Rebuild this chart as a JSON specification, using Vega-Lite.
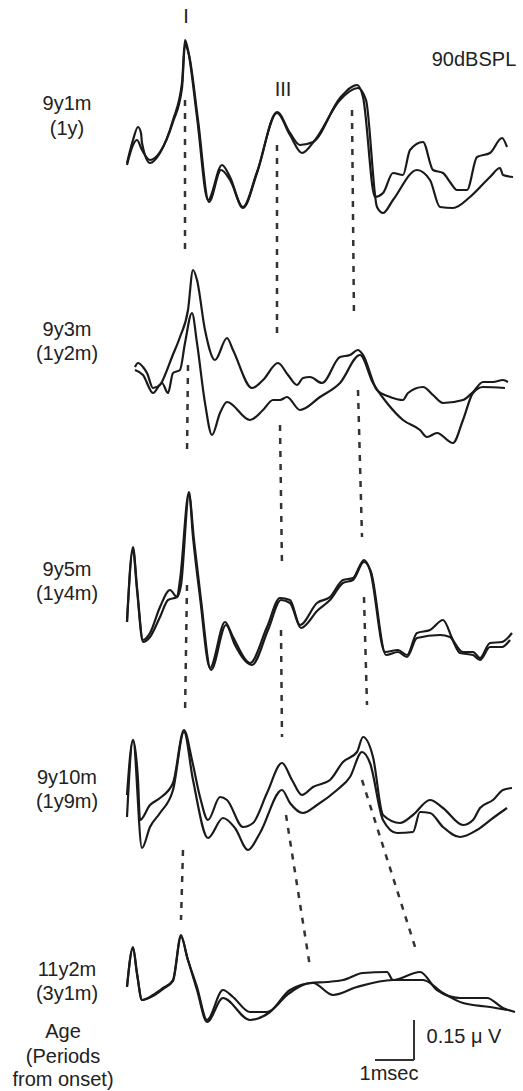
{
  "$schema": "https://vega.github.io/schema/vega-lite/v6.json",
  "width": 523,
  "height": 1091,
  "autosize": {"type": "fit", "contains": "padding"},
  "padding": 0,
  "background": "white",
  "config": {"view": {"stroke": null}},
  "datasets": {
    "traces": [
      {"s":"1a","x":127,"y":163},{"s":"1a","x":133,"y":140},{"s":"1a","x":138,"y":127},{"s":"1a","x":141,"y":133},{"s":"1a","x":142,"y":143},{"s":"1a","x":150,"y":163},{"s":"1a","x":160,"y":153},{"s":"1a","x":173,"y":120},{"s":"1a","x":182,"y":83},{"s":"1a","x":185,"y":40},{"s":"1a","x":188,"y":50},{"s":"1a","x":197,"y":117},{"s":"1a","x":208,"y":200},{"s":"1a","x":222,"y":165},{"s":"1a","x":230,"y":177},{"s":"1a","x":243,"y":208},{"s":"1a","x":257,"y":173},{"s":"1a","x":277,"y":112},{"s":"1a","x":290,"y":133},{"s":"1a","x":300,"y":145},{"s":"1a","x":313,"y":142},{"s":"1a","x":340,"y":98},{"s":"1a","x":357,"y":85},{"s":"1a","x":363,"y":97},{"s":"1a","x":375,"y":197},{"s":"1a","x":383,"y":193},{"s":"1a","x":393,"y":173},{"s":"1a","x":403,"y":175},{"s":"1a","x":410,"y":150},{"s":"1a","x":423,"y":142},{"s":"1a","x":433,"y":170},{"s":"1a","x":443,"y":173},{"s":"1a","x":450,"y":182},{"s":"1a","x":457,"y":190},{"s":"1a","x":467,"y":190},{"s":"1a","x":477,"y":157},{"s":"1a","x":490,"y":153},{"s":"1a","x":502,"y":138},{"s":"1a","x":507,"y":147},
      {"s":"1b","x":127,"y":165},{"s":"1b","x":133,"y":145},{"s":"1b","x":137,"y":140},{"s":"1b","x":142,"y":150},{"s":"1b","x":150,"y":160},{"s":"1b","x":160,"y":152},{"s":"1b","x":173,"y":122},{"s":"1b","x":182,"y":88},{"s":"1b","x":185,"y":45},{"s":"1b","x":189,"y":55},{"s":"1b","x":198,"y":120},{"s":"1b","x":209,"y":202},{"s":"1b","x":221,"y":170},{"s":"1b","x":230,"y":180},{"s":"1b","x":243,"y":207},{"s":"1b","x":257,"y":172},{"s":"1b","x":277,"y":113},{"s":"1b","x":290,"y":135},{"s":"1b","x":302,"y":153},{"s":"1b","x":315,"y":140},{"s":"1b","x":340,"y":100},{"s":"1b","x":358,"y":88},{"s":"1b","x":366,"y":100},{"s":"1b","x":377,"y":207},{"s":"1b","x":383,"y":213},{"s":"1b","x":393,"y":200},{"s":"1b","x":417,"y":170},{"s":"1b","x":430,"y":180},{"s":"1b","x":440,"y":207},{"s":"1b","x":453,"y":208},{"s":"1b","x":470,"y":197},{"s":"1b","x":490,"y":177},{"s":"1b","x":500,"y":168},{"s":"1b","x":503,"y":175},{"s":"1b","x":513,"y":177},
      {"s":"2a","x":135,"y":367},{"s":"2a","x":138,"y":363},{"s":"2a","x":143,"y":367},{"s":"2a","x":147,"y":373},{"s":"2a","x":153,"y":388},{"s":"2a","x":160,"y":385},{"s":"2a","x":165,"y":375},{"s":"2a","x":172,"y":357},{"s":"2a","x":180,"y":337},{"s":"2a","x":188,"y":310},{"s":"2a","x":193,"y":270},{"s":"2a","x":197,"y":280},{"s":"2a","x":205,"y":330},{"s":"2a","x":215,"y":360},{"s":"2a","x":227,"y":338},{"s":"2a","x":233,"y":350},{"s":"2a","x":252,"y":388},{"s":"2a","x":263,"y":380},{"s":"2a","x":278,"y":363},{"s":"2a","x":288,"y":375},{"s":"2a","x":297,"y":385},{"s":"2a","x":303,"y":378},{"s":"2a","x":310,"y":377},{"s":"2a","x":322,"y":383},{"s":"2a","x":340,"y":357},{"s":"2a","x":350,"y":355},{"s":"2a","x":358,"y":350},{"s":"2a","x":363,"y":355},{"s":"2a","x":377,"y":390},{"s":"2a","x":390,"y":397},{"s":"2a","x":403,"y":400},{"s":"2a","x":408,"y":393},{"s":"2a","x":423,"y":387},{"s":"2a","x":433,"y":395},{"s":"2a","x":443,"y":403},{"s":"2a","x":463,"y":400},{"s":"2a","x":473,"y":392},{"s":"2a","x":483,"y":382},{"s":"2a","x":493,"y":382},{"s":"2a","x":503,"y":380},{"s":"2a","x":508,"y":382},
      {"s":"2b","x":135,"y":370},{"s":"2b","x":143,"y":375},{"s":"2b","x":153,"y":393},{"s":"2b","x":162,"y":383},{"s":"2b","x":168,"y":393},{"s":"2b","x":173,"y":373},{"s":"2b","x":180,"y":370},{"s":"2b","x":185,"y":343},{"s":"2b","x":192,"y":313},{"s":"2b","x":197,"y":343},{"s":"2b","x":205,"y":403},{"s":"2b","x":212,"y":435},{"s":"2b","x":220,"y":413},{"s":"2b","x":227,"y":402},{"s":"2b","x":250,"y":420},{"s":"2b","x":263,"y":410},{"s":"2b","x":273,"y":400},{"s":"2b","x":280,"y":400},{"s":"2b","x":287,"y":397},{"s":"2b","x":300,"y":410},{"s":"2b","x":320,"y":397},{"s":"2b","x":340,"y":383},{"s":"2b","x":360,"y":355},{"s":"2b","x":373,"y":383},{"s":"2b","x":387,"y":403},{"s":"2b","x":403,"y":420},{"s":"2b","x":420,"y":430},{"s":"2b","x":427,"y":437},{"s":"2b","x":437,"y":433},{"s":"2b","x":453,"y":443},{"s":"2b","x":463,"y":420},{"s":"2b","x":473,"y":393},{"s":"2b","x":483,"y":387},{"s":"2b","x":505,"y":388},
      {"s":"3a","x":127,"y":622},{"s":"3a","x":133,"y":547},{"s":"3a","x":137,"y":587},{"s":"3a","x":143,"y":640},{"s":"3a","x":150,"y":633},{"s":"3a","x":160,"y":607},{"s":"3a","x":170,"y":590},{"s":"3a","x":177,"y":597},{"s":"3a","x":180,"y":580},{"s":"3a","x":189,"y":492},{"s":"3a","x":193,"y":537},{"s":"3a","x":200,"y":597},{"s":"3a","x":210,"y":668},{"s":"3a","x":225,"y":622},{"s":"3a","x":233,"y":637},{"s":"3a","x":250,"y":663},{"s":"3a","x":267,"y":627},{"s":"3a","x":280,"y":598},{"s":"3a","x":290,"y":600},{"s":"3a","x":300,"y":625},{"s":"3a","x":317,"y":603},{"s":"3a","x":330,"y":597},{"s":"3a","x":343,"y":580},{"s":"3a","x":353,"y":578},{"s":"3a","x":364,"y":560},{"s":"3a","x":370,"y":570},{"s":"3a","x":385,"y":652},{"s":"3a","x":398,"y":650},{"s":"3a","x":407,"y":655},{"s":"3a","x":417,"y":633},{"s":"3a","x":430,"y":630},{"s":"3a","x":443,"y":620},{"s":"3a","x":453,"y":640},{"s":"3a","x":463,"y":652},{"s":"3a","x":473,"y":652},{"s":"3a","x":480,"y":658},{"s":"3a","x":490,"y":643},{"s":"3a","x":502,"y":642},{"s":"3a","x":512,"y":633},
      {"s":"3b","x":127,"y":622},{"s":"3b","x":133,"y":550},{"s":"3b","x":137,"y":590},{"s":"3b","x":143,"y":642},{"s":"3b","x":150,"y":637},{"s":"3b","x":160,"y":617},{"s":"3b","x":168,"y":600},{"s":"3b","x":177,"y":597},{"s":"3b","x":181,"y":585},{"s":"3b","x":189,"y":495},{"s":"3b","x":194,"y":540},{"s":"3b","x":201,"y":600},{"s":"3b","x":211,"y":670},{"s":"3b","x":226,"y":625},{"s":"3b","x":235,"y":645},{"s":"3b","x":252,"y":665},{"s":"3b","x":268,"y":630},{"s":"3b","x":281,"y":600},{"s":"3b","x":290,"y":603},{"s":"3b","x":301,"y":628},{"s":"3b","x":318,"y":610},{"s":"3b","x":330,"y":600},{"s":"3b","x":343,"y":583},{"s":"3b","x":353,"y":580},{"s":"3b","x":364,"y":562},{"s":"3b","x":371,"y":572},{"s":"3b","x":386,"y":655},{"s":"3b","x":398,"y":652},{"s":"3b","x":407,"y":657},{"s":"3b","x":417,"y":638},{"s":"3b","x":440,"y":635},{"s":"3b","x":450,"y":637},{"s":"3b","x":460,"y":653},{"s":"3b","x":473,"y":655},{"s":"3b","x":480,"y":660},{"s":"3b","x":490,"y":647},{"s":"3b","x":502,"y":647},{"s":"3b","x":510,"y":640},
      {"s":"4a","x":127,"y":795},{"s":"4a","x":133,"y":740},{"s":"4a","x":138,"y":780},{"s":"4a","x":140,"y":820},{"s":"4a","x":150,"y":805},{"s":"4a","x":160,"y":798},{"s":"4a","x":173,"y":783},{"s":"4a","x":184,"y":730},{"s":"4a","x":192,"y":760},{"s":"4a","x":200,"y":797},{"s":"4a","x":208,"y":820},{"s":"4a","x":220,"y":797},{"s":"4a","x":227,"y":800},{"s":"4a","x":243,"y":827},{"s":"4a","x":253,"y":823},{"s":"4a","x":267,"y":793},{"s":"4a","x":282,"y":763},{"s":"4a","x":292,"y":780},{"s":"4a","x":302,"y":795},{"s":"4a","x":313,"y":787},{"s":"4a","x":330,"y":780},{"s":"4a","x":343,"y":762},{"s":"4a","x":357,"y":752},{"s":"4a","x":363,"y":737},{"s":"4a","x":373,"y":757},{"s":"4a","x":383,"y":815},{"s":"4a","x":400,"y":823},{"s":"4a","x":413,"y":815},{"s":"4a","x":430,"y":800},{"s":"4a","x":443,"y":808},{"s":"4a","x":463,"y":825},{"s":"4a","x":473,"y":820},{"s":"4a","x":480,"y":808},{"s":"4a","x":493,"y":800},{"s":"4a","x":503,"y":790},{"s":"4a","x":512,"y":788},
      {"s":"4b","x":127,"y":817},{"s":"4b","x":133,"y":740},{"s":"4b","x":142,"y":848},{"s":"4b","x":150,"y":827},{"s":"4b","x":160,"y":813},{"s":"4b","x":173,"y":790},{"s":"4b","x":184,"y":732},{"s":"4b","x":193,"y":780},{"s":"4b","x":208,"y":838},{"s":"4b","x":223,"y":818},{"s":"4b","x":235,"y":828},{"s":"4b","x":248,"y":850},{"s":"4b","x":260,"y":833},{"s":"4b","x":282,"y":790},{"s":"4b","x":290,"y":803},{"s":"4b","x":303,"y":813},{"s":"4b","x":317,"y":805},{"s":"4b","x":337,"y":790},{"s":"4b","x":350,"y":777},{"s":"4b","x":362,"y":752},{"s":"4b","x":370,"y":763},{"s":"4b","x":383,"y":820},{"s":"4b","x":397,"y":833},{"s":"4b","x":413,"y":832},{"s":"4b","x":420,"y":812},{"s":"4b","x":430,"y":813},{"s":"4b","x":443,"y":827},{"s":"4b","x":460,"y":837},{"s":"4b","x":477,"y":830},{"s":"4b","x":493,"y":818},{"s":"4b","x":507,"y":808},
      {"s":"5a","x":127,"y":987},{"s":"5a","x":133,"y":947},{"s":"5a","x":137,"y":973},{"s":"5a","x":142,"y":1000},{"s":"5a","x":153,"y":995},{"s":"5a","x":163,"y":988},{"s":"5a","x":173,"y":980},{"s":"5a","x":181,"y":935},{"s":"5a","x":187,"y":957},{"s":"5a","x":197,"y":987},{"s":"5a","x":207,"y":1020},{"s":"5a","x":223,"y":990},{"s":"5a","x":233,"y":997},{"s":"5a","x":250,"y":1012},{"s":"5a","x":267,"y":1012},{"s":"5a","x":287,"y":995},{"s":"5a","x":297,"y":988},{"s":"5a","x":310,"y":983},{"s":"5a","x":327,"y":982},{"s":"5a","x":343,"y":980},{"s":"5a","x":363,"y":973},{"s":"5a","x":387,"y":972},{"s":"5a","x":393,"y":980},{"s":"5a","x":420,"y":972},{"s":"5a","x":437,"y":990},{"s":"5a","x":460,"y":998},{"s":"5a","x":487,"y":998},{"s":"5a","x":503,"y":1008},{"s":"5a","x":515,"y":1012},
      {"s":"5b","x":127,"y":987},{"s":"5b","x":133,"y":948},{"s":"5b","x":137,"y":974},{"s":"5b","x":142,"y":1000},{"s":"5b","x":153,"y":996},{"s":"5b","x":163,"y":989},{"s":"5b","x":173,"y":981},{"s":"5b","x":181,"y":937},{"s":"5b","x":188,"y":960},{"s":"5b","x":197,"y":990},{"s":"5b","x":207,"y":1022},{"s":"5b","x":223,"y":998},{"s":"5b","x":250,"y":1020},{"s":"5b","x":270,"y":1012},{"s":"5b","x":290,"y":990},{"s":"5b","x":313,"y":983},{"s":"5b","x":333,"y":995},{"s":"5b","x":357,"y":987},{"s":"5b","x":393,"y":980},{"s":"5b","x":423,"y":980},{"s":"5b","x":443,"y":993},{"s":"5b","x":463,"y":1003},{"s":"5b","x":490,"y":1007},{"s":"5b","x":507,"y":1010}
    ],
    "dashes": [
      {"x":185,"y":100,"x2":185,"y2":250},
      {"x":188,"y":365,"x2":187,"y2":455},
      {"x":187,"y":585,"x2":185,"y2":715},
      {"x":183,"y":850,"x2":181,"y2":920},
      {"x":277,"y":145,"x2":277,"y2":335},
      {"x":280,"y":425,"x2":282,"y2":567},
      {"x":281,"y":630,"x2":282,"y2":737},
      {"x":286,"y":815,"x2":310,"y2":967},
      {"x":352,"y":110,"x2":354,"y2":318},
      {"x":358,"y":390,"x2":362,"y2":537},
      {"x":364,"y":597,"x2":367,"y2":705},
      {"x":362,"y":780,"x2":417,"y2":953}
    ],
    "bar": [
      {"x":414,"y":1020,"x2":414,"y2":1060},
      {"x":375,"y":1060,"x2":414,"y2":1060}
    ],
    "labels": [
      {"t":"I","x":186,"y":17},
      {"t":"III","x":283,"y":90},
      {"t":"90dBSPL","x":474,"y":60},
      {"t":"9y1m","x":67,"y":104},
      {"t":"(1y)","x":67,"y":129},
      {"t":"9y3m","x":67,"y":330},
      {"t":"(1y2m)","x":67,"y":354},
      {"t":"9y5m","x":67,"y":570},
      {"t":"(1y4m)","x":67,"y":594},
      {"t":"9y10m","x":67,"y":778},
      {"t":"(1y9m)","x":67,"y":802},
      {"t":"11y2m","x":67,"y":970},
      {"t":"(3y1m)","x":67,"y":994},
      {"t":"Age","x":63,"y":1032},
      {"t":"(Periods","x":63,"y":1057},
      {"t":"from onset)","x":63,"y":1080},
      {"t":"0.15 μ V","x":464,"y":1037},
      {"t":"1msec","x":389,"y":1074}
    ]
  },
  "layer": [
    {
      "data": {"name": "dashes"},
      "mark": {"type": "rule", "color": "#333333", "strokeWidth": 2.5, "strokeDash": [6, 7]},
      "encoding": {
        "x": {"field": "x", "type": "quantitative", "scale": {"domain": [0, 523], "nice": false, "zero": false}, "axis": null},
        "y": {"field": "y", "type": "quantitative", "scale": {"domain": [0, 1091], "nice": false, "zero": false, "reverse": true}, "axis": null},
        "x2": {"field": "x2"},
        "y2": {"field": "y2"}
      }
    },
    {
      "data": {"name": "traces"},
      "mark": {"type": "line", "color": "#1a1a1a", "strokeWidth": 2.2, "strokeJoin": "round", "interpolate": "monotone"},
      "encoding": {
        "x": {"field": "x", "type": "quantitative", "axis": null},
        "y": {"field": "y", "type": "quantitative", "axis": null},
        "detail": {"field": "s", "type": "nominal"}
      }
    },
    {
      "data": {"name": "bar"},
      "mark": {"type": "rule", "color": "#333333", "strokeWidth": 2},
      "encoding": {
        "x": {"field": "x", "type": "quantitative", "axis": null},
        "y": {"field": "y", "type": "quantitative", "axis": null},
        "x2": {"field": "x2"},
        "y2": {"field": "y2"}
      }
    },
    {
      "data": {"name": "labels"},
      "mark": {"type": "text", "font": "Liberation Sans", "fontSize": 20, "fill": "#222222", "align": "center", "baseline": "middle"},
      "encoding": {
        "x": {"field": "x", "type": "quantitative", "axis": null},
        "y": {"field": "y", "type": "quantitative", "axis": null},
        "text": {"field": "t", "type": "nominal"}
      }
    }
  ]
}
